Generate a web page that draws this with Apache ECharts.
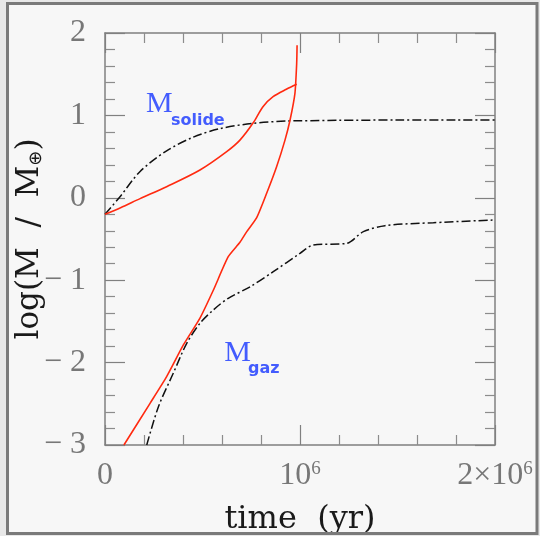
<!DOCTYPE html>
<html>
<head>
<meta charset="utf-8">
<script src="https://cdn.jsdelivr.net/npm/echarts@6/dist/echarts.min.js"></script>
<style>html,body{margin:0;padding:0;background:#e8e8e8;}#c{width:540px;height:536px;}</style>
</head>
<body>
<div id="c"></div>
<script>
// ---- data (x in years, y = log(M / M_earth)) ----
const solidCoreX = [0, 0.08e6, 0.18e6, 0.316e6, 0.487e6, 0.624e6, 0.692e6, 0.76e6, 0.81e6, 0.862e6, 0.93e6, 0.983e6];
const solidCoreY = [-0.2, -0.12, -0.01, 0.135, 0.337, 0.56, 0.70, 0.91, 1.106, 1.227, 1.317, 1.377];

const gasRedX = [0.097e6, 0.231e6, 0.316e6, 0.402e6, 0.487e6, 0.556e6, 0.632e6, 0.692e6, 0.727e6, 0.778e6, 0.829e6, 0.88e6, 0.923e6, 0.949e6, 0.974e6, 0.983e6, 0.985e6];
const gasRedY = [-3, -2.494, -2.17, -1.786, -1.46, -1.119, -0.715, -0.54, -0.41, -0.24, 0.055, 0.377, 0.70, 0.944, 1.268, 1.632, 1.85];

const solidDashX = [0, 0.077e6, 0.18e6, 0.316e6, 0.453e6, 0.59e6, 0.76e6, 0.93e6, 1.0e6, 1.2e6, 1.5e6, 1.8e6, 2.0e6];
const solidDashY = [-0.2, 0.013, 0.32, 0.57, 0.737, 0.84, 0.904, 0.932, 0.935, 0.94, 0.944, 0.945, 0.945];

const gasDashX = [0.214e6, 0.274e6, 0.35e6, 0.419e6, 0.487e6, 0.556e6, 0.632e6, 0.744e6, 0.863e6, 1.0e6, 1.068e6, 1.24e6, 1.325e6, 1.436e6, 1.684e6, 1.99e6];
const gasDashY = [-3, -2.535, -2.13, -1.766, -1.523, -1.36, -1.22, -1.08, -0.897, -0.674, -0.573, -0.552, -0.411, -0.338, -0.302, -0.27];

const xTickValues = [0, 1e6, 2e6];
const xTickLabels = ['{n|0}', '{n|10}{s|6}', '{n|2×10}{s|6}'];
const yTickValues = [-3, -2, -1, 0, 1, 2];
const yTickLabels = ['− 3', '− 2', '− 1', '0', '1', '2'];

const annotations = [
  {text: 'M', x: 0.21e6, y: 1.14, style: 'm'},
  {text: 'solide', x: 0.338e6, y: 0.94, style: 's'},
  {text: 'M', x: 0.612e6, y: -1.89, style: 'm'},
  {text: 'gaz', x: 0.733e6, y: -2.08, style: 's'}
];

const zip = (xs, ys) => xs.map((x, i) => [x, ys[i]]);

const axisLineStyle = {color: '#808080', width: 1.5};
const tickCommon = {inside: true, length: 20, lineStyle: {color: '#808080', width: 1.2}};
const minorCommon = {show: true, splitNumber: 5, length: 10, lineStyle: {color: '#8c8c8c', width: 1.2}};
const labelFont = 'Liberation Serif';
const titleFont = 'DejaVu Serif';
const blue = '#1535ff';

const chart = echarts.init(document.getElementById('c'), null, {renderer: 'canvas'});
chart.setOption({
  backgroundColor: '#e8e8e8',
  animation: false,
  graphic: {elements: [
    {type: 'rect', z: -100, silent: true, shape: {x: 7, y: 3, width: 530, height: 531}, style: {fill: '#f7f7f7'}},
    {type: 'rect', z: 100, silent: true, shape: {x: 7.5, y: 3.5, width: 529.5, height: 530}, style: {fill: 'none', stroke: '#7a7a7a', lineWidth: 3}},
    {type: 'rect', z: 100, silent: true, shape: {x: 539, y: 0, width: 2, height: 536}, style: {fill: '#e8e8e8'}}
  ]},
  grid: {left: 105, right: 45, top: 33, bottom: 91, containLabel: false, outerBoundsMode: 'none'},
  xAxis: [{
    type: 'value', min: 0, max: 2e6, interval: 1e6, position: 'bottom',
    axisLine: {show: true, onZero: false, lineStyle: axisLineStyle},
    axisTick: tickCommon, minorTick: minorCommon,
    splitLine: {show: false}, minorSplitLine: {show: false},
    axisLabel: {
      margin: 15, showMinLabel: true, showMaxLabel: true,
      formatter: v => xTickLabels[xTickValues.indexOf(v)] || '',
      rich: {
        n: {fontFamily: labelFont, fontSize: 32, color: '#777', lineHeight: 32},
        s: {fontFamily: labelFont, fontSize: 19, color: '#777', lineHeight: 19, verticalAlign: 'top'}
      }
    },
    name: 'time  (yr)', nameLocation: 'middle', nameGap: 59, nameMoveOverlap: false,
    nameTextStyle: {fontFamily: titleFont, fontSize: 32, color: '#1a1a1a'}
  }, {
    type: 'value', min: 0, max: 2e6, interval: 1e6, position: 'top',
    axisLine: {show: true, onZero: false, lineStyle: axisLineStyle},
    axisTick: tickCommon, minorTick: minorCommon,
    splitLine: {show: false}, axisLabel: {show: false}
  }],
  yAxis: [{
    type: 'value', min: -3, max: 2, interval: 1, position: 'left',
    axisLine: {show: true, onZero: false, lineStyle: axisLineStyle},
    axisTick: tickCommon, minorTick: minorCommon,
    splitLine: {show: false}, minorSplitLine: {show: false},
    axisLabel: {
      margin: 19, showMinLabel: true, showMaxLabel: true,
      fontFamily: labelFont, fontSize: 32, color: '#777',
      formatter: v => yTickLabels[yTickValues.indexOf(v)] || ''
    },
    name: '{a|log(M  /  M}{b|⊕}{a|)}', nameLocation: 'middle', nameGap: 60, nameRotate: 90, nameMoveOverlap: false,
    nameTextStyle: {
      rich: {
        a: {fontFamily: titleFont, fontSize: 31, color: '#1a1a1a', lineHeight: 36, verticalAlign: 'bottom'},
        b: {fontFamily: 'DejaVu Sans', fontSize: 18, color: '#1a1a1a', lineHeight: 18, verticalAlign: 'bottom'}
      }
    }
  }, {
    type: 'value', min: -3, max: 2, interval: 1, position: 'right',
    axisLine: {show: true, onZero: false, lineStyle: axisLineStyle},
    axisTick: tickCommon, minorTick: minorCommon,
    splitLine: {show: false}, axisLabel: {show: false}
  }],
  series: [
    {type: 'line', data: zip(solidDashX, solidDashY), showSymbol: false, smooth: 0.3,
      lineStyle: {color: '#111', width: 1.5, type: [9, 3, 2, 3]}},
    {type: 'line', data: zip(gasDashX, gasDashY), showSymbol: false, smooth: 0.3,
      lineStyle: {color: '#111', width: 1.5, type: [9, 3, 2, 3]}},
    {type: 'line', data: zip(solidCoreX, solidCoreY), showSymbol: false, smooth: 0.3,
      lineStyle: {color: '#ff2a10', width: 1.6}},
    {type: 'line', data: zip(gasRedX, gasRedY), showSymbol: false, smooth: 0.2,
      lineStyle: {color: '#ff2a10', width: 1.6}},
    {type: 'scatter', symbolSize: 0, silent: true, z: 5,
      data: annotations.map(a => ({value: [a.x, a.y], label: {formatter: a.text,
        fontFamily: a.style === 'm' ? labelFont : 'DejaVu Sans',
        fontWeight: a.style === 'm' ? 'normal' : 'bold',
        fontSize: a.style === 'm' ? 30 : 16}})),
      label: {show: true, position: 'right', distance: 0, color: blue}}
  ]
});
</script>
</body>
</html>
